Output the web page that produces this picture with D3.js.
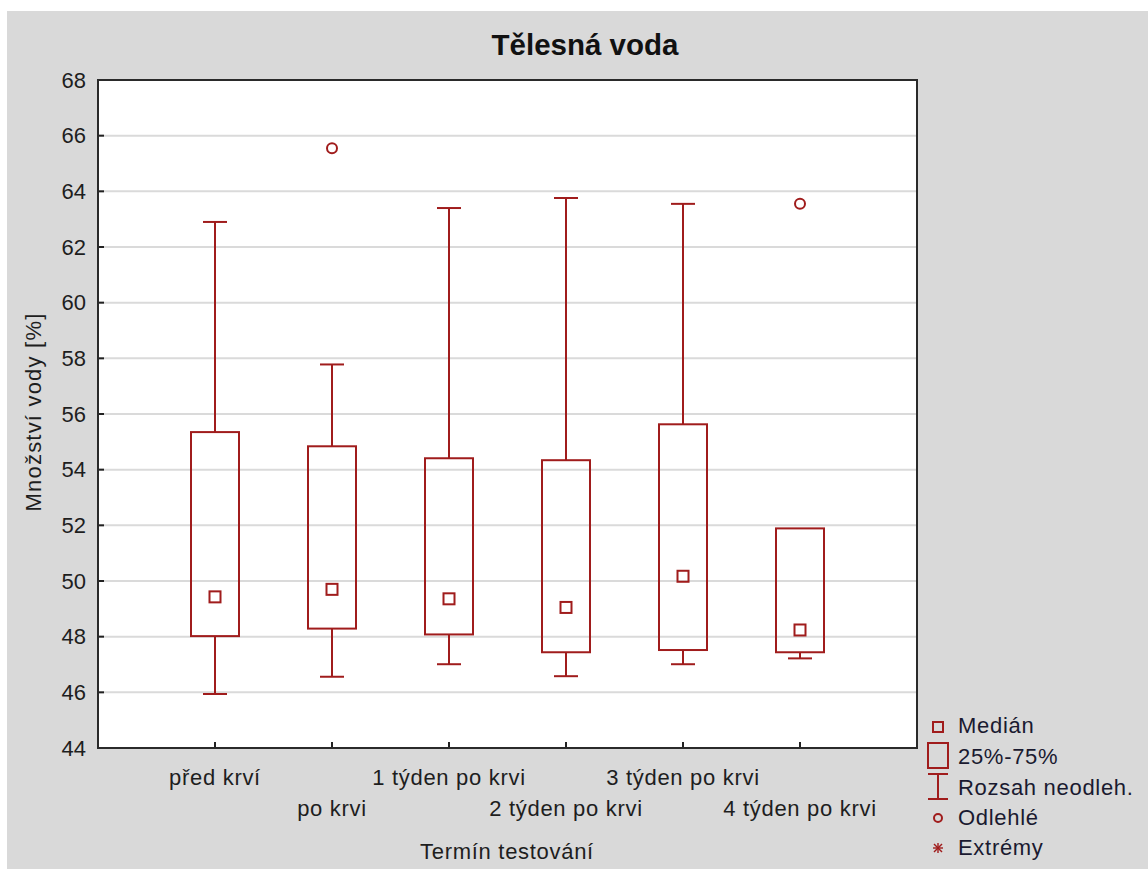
<!DOCTYPE html>
<html>
<head>
<meta charset="utf-8">
<script src="https://cdn.jsdelivr.net/npm/d3@7/dist/d3.min.js"></script>
<style>
  html, body { margin: 0; padding: 0; background: #ffffff; }
  svg { display: block; font-family: "Liberation Sans", Arial, sans-serif; }
</style>
</head>
<body>
<svg id="chart" width="1148" height="869"></svg>
<script>
const categories = ["před krví", "po krvi", "1 týden po krvi", "2 týden po krvi", "3 týden po krvi", "4 týden po krvi"];
const medians     = [49.43, 49.70, 49.36, 49.05, 50.17, 48.24];
const q1          = [48.02, 48.29, 48.08, 47.44, 47.52, 47.44];
const q3          = [55.35, 54.84, 54.41, 54.34, 55.63, 51.89];
const whiskerLow  = [45.94, 46.56, 47.01, 46.58, 47.01, 47.22];
const whiskerHigh = [62.90, 57.78, 63.40, 63.76, 63.55, 51.89];
const outlierCats   = ["po krvi", "4 týden po krvi"];
const outlierValues = [65.55, 63.55];
const yTicks = [44, 46, 48, 50, 52, 54, 56, 58, 60, 62, 64, 66, 68];
const legendLabels = ["Medián", "25%-75%", "Rozsah neodleh.", "Odlehlé", "Extrémy"];

const red = "#a01c1c";
const svg = d3.select("#chart");

// background
svg.append("rect").attr("x", 7).attr("y", 11).attr("width", 1141).attr("height", 858).attr("fill", "#d9d9d9");

const L = 98, R = 917, T = 80, B = 748;
const x = d3.scalePoint().domain(categories).range([L, R]).padding(1);
const y = d3.scaleLinear().domain([44, 68]).range([B, T]);

// plot area
svg.append("rect").attr("x", L).attr("y", T).attr("width", R - L).attr("height", B - T).attr("fill", "#ffffff");

// gridlines
svg.append("g").selectAll("line").data(yTicks.filter(t => t > 44 && t < 68)).join("line")
  .attr("x1", L).attr("x2", R).attr("y1", d => y(d)).attr("y2", d => y(d))
  .attr("stroke", "#dadada").attr("stroke-width", 2);

// axes via d3
const yAxis = d3.axisLeft(y).tickValues(yTicks).tickSize(0).tickPadding(12).tickFormat(d3.format("d"));
const gy = svg.append("g").attr("transform", `translate(${L},0)`).call(yAxis);
gy.select(".domain").remove();
gy.selectAll("text").attr("font-size", 22).attr("fill", "#1e1e1e").attr("font-family", "Liberation Sans, Arial, sans-serif");

// inward y ticks
svg.append("g").selectAll("line").data(yTicks.filter(t => t > 44 && t < 68)).join("line")
  .attr("x1", L).attr("x2", L + 6).attr("y1", d => y(d)).attr("y2", d => y(d))
  .attr("stroke", "#222").attr("stroke-width", 2);

// inward x ticks
svg.append("g").selectAll("line").data(categories).join("line")
  .attr("x1", d => x(d)).attr("x2", d => x(d)).attr("y1", B).attr("y2", B - 6)
  .attr("stroke", "#222").attr("stroke-width", 2);

// x tick labels (staggered)
svg.append("g").selectAll("text").data(categories).join("text")
  .attr("x", d => x(d)).attr("y", (d, i) => i % 2 === 0 ? 785 : 816)
  .attr("text-anchor", "middle").attr("font-size", 22).attr("letter-spacing", 0.7)
  .attr("fill", "#1e1e1e").text(d => d);

// boxes
const boxW = 48, capW = 24, medS = 11;
const g = svg.append("g").attr("stroke", red).attr("stroke-width", 2).attr("fill", "none");
categories.forEach((c, i) => {
  const cx = x(c);
  if (whiskerHigh[i] > q3[i]) {
    g.append("line").attr("x1", cx).attr("x2", cx).attr("y1", y(q3[i])).attr("y2", y(whiskerHigh[i]));
    g.append("line").attr("x1", cx - capW / 2).attr("x2", cx + capW / 2).attr("y1", y(whiskerHigh[i])).attr("y2", y(whiskerHigh[i]));
  }
  if (whiskerLow[i] < q1[i]) {
    g.append("line").attr("x1", cx).attr("x2", cx).attr("y1", y(q1[i])).attr("y2", y(whiskerLow[i]));
    g.append("line").attr("x1", cx - capW / 2).attr("x2", cx + capW / 2).attr("y1", y(whiskerLow[i])).attr("y2", y(whiskerLow[i]));
  }
  g.append("rect").attr("x", cx - boxW / 2).attr("y", y(q3[i])).attr("width", boxW).attr("height", y(q1[i]) - y(q3[i]));
  g.append("rect").attr("x", cx - medS / 2).attr("y", y(medians[i]) - medS / 2).attr("width", medS).attr("height", medS);
});
outlierCats.forEach((c, i) => {
  g.append("circle").attr("cx", x(c)).attr("cy", y(outlierValues[i])).attr("r", 5);
});

// frame
svg.append("rect").attr("x", L).attr("y", T).attr("width", R - L).attr("height", B - T)
  .attr("fill", "none").attr("stroke", "#2a2a2a").attr("stroke-width", 2);

// title
svg.append("text").attr("x", 585).attr("y", 55).attr("text-anchor", "middle")
  .attr("font-size", 29.5).attr("font-weight", "bold").attr("fill", "#111").text("Tělesná voda");

// axis titles
svg.append("text").attr("x", 507).attr("y", 859).attr("text-anchor", "middle")
  .attr("font-size", 22).attr("letter-spacing", 0.7).attr("fill", "#1e1e1e").text("Termín testování");
svg.append("text").attr("transform", "translate(41,412) rotate(-90)").attr("text-anchor", "middle")
  .attr("font-size", 22).attr("letter-spacing", 1.2).attr("fill", "#1e1e1e").text("Množství vody [%]");

// legend
const lg = svg.append("g");
const lx = 938;
const baselines = [733, 764, 795, 825, 855];
const ls = lg.append("g").attr("stroke", red).attr("stroke-width", 2).attr("fill", "none");
ls.append("rect").attr("x", lx - 5).attr("y", 722).attr("width", 10).attr("height", 10);
ls.append("rect").attr("x", lx - 10).attr("y", 743).attr("width", 20).attr("height", 25);
ls.append("line").attr("x1", lx).attr("x2", lx).attr("y1", 774).attr("y2", 799);
ls.append("line").attr("x1", lx - 10).attr("x2", lx + 10).attr("y1", 774).attr("y2", 774);
ls.append("line").attr("x1", lx - 10).attr("x2", lx + 10).attr("y1", 799).attr("y2", 799);
ls.append("circle").attr("cx", lx).attr("cy", 818).attr("r", 4);
// asterisk: vertical, horizontal and diagonal strokes
const ast = ls.append("g").attr("transform", `translate(${lx},848)`).attr("stroke-width", 1.4);
[[0, -5, 0, 5], [-5, 0, 5, 0], [-4, -4, 4, 4], [-4, 4, 4, -4]].forEach(s => {
  ast.append("line").attr("x1", s[0]).attr("y1", s[1]).attr("x2", s[2]).attr("y2", s[3]);
});
lg.selectAll("text").data(legendLabels).join("text")
  .attr("x", 958).attr("y", (d, i) => baselines[i]).attr("font-size", 22).attr("letter-spacing", 0.7)
  .attr("fill", "#1a1a30").text(d => d);
</script>
</body>
</html>
